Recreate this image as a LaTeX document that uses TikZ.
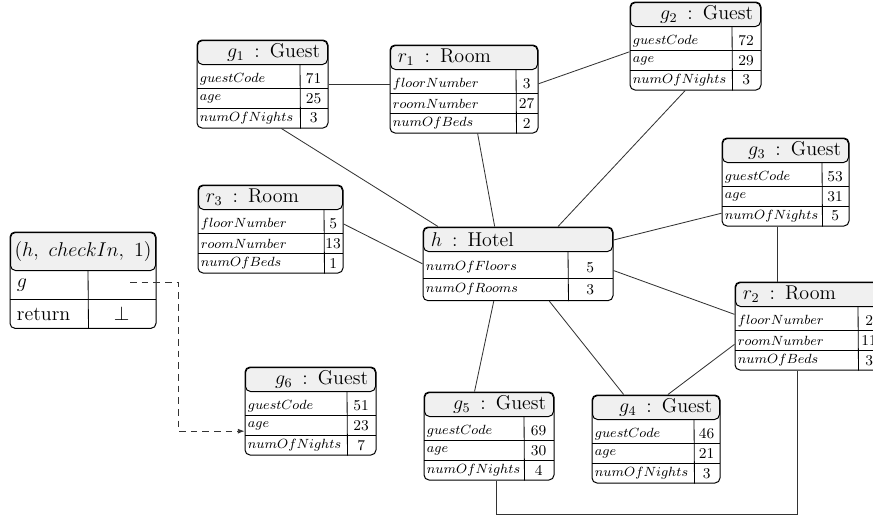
\documentclass[tikz,border=0pt]{standalone}
\usepackage{amsmath,amssymb}
\usepackage{tikz}
\usetikzlibrary{arrows.meta,positioning,fit,calc}
\definecolor{headgray}{HTML}{F0F0F0}
\definecolor{linkgray}{HTML}{333333}
\tikzset{title side/.store in=\titleside, title side=east,
  first gap/.store in=\firstgap, first gap=2.4pt}
% object box: [options]{name}{top left}{width}{value column}{title}{attribute/value list}
\newcommand{\umlobj}[7][]{%
  \begin{scope}[#1]
    \node[objhead, anchor=north west, minimum width=#4*0.6pt] (#2-head) at (#3) {};
    \node[objtitle, anchor=\titleside] (#2-t) at (#2-head.\titleside) {#6};
    \xdef\prevrow{#2-head}
    \foreach \attr/\val [count=\i] in {#7} {
      \ifnum\i=1 \edef\rowgap{\firstgap}\else\def\rowgap{0pt}\fi
      \node[objrow, anchor=north west, minimum width=#4*0.6pt] (#2-r\i) at ([yshift=-\rowgap]\prevrow.south west) {};
      \node[objattr] (#2-a\i) at (#2-r\i.west) {\attr};
      \node[objval] (#2-v\i) at ($(#2-r\i.east)+(-#5/2,0)$) {\val};
      \ifnum\i>1 \draw[objline] (#2-r\i.north west) -- (#2-r\i.north east);\fi
      \xdef\prevrow{#2-r\i}
    }
    \node[objframe, fit=(#2-head)(\prevrow)] (#2) {};
    \draw[objline] ($(#2-head.south east)+(-#5,0)$) -- ($(#2.south east)+(-#5,0)$);
  \end{scope}
}

\begin{document}
\begin{tikzpicture}[
  x=0.6pt, y=-0.6pt,
  objhead/.style={draw=black, line width=0.6pt, fill=headgray, rounded corners=3pt, inner sep=0pt, minimum height=14.4pt},
  objtitle/.style={inner xsep=4.5pt, inner ysep=0pt, font=\large},
  objrow/.style={inner sep=0pt, minimum height=11.4pt},
  objattr/.style={anchor=west, inner xsep=1.5pt, inner ysep=0pt, font=\footnotesize},
  objval/.style={inner sep=0pt, font=\small},
  objline/.style={draw=black, line width=0.5pt},
  objframe/.style={draw=black, line width=0.6pt, rounded corners=3pt, inner sep=0pt},
  link/.style={draw=linkgray, line width=0.5pt},
  ref/.style={link, dash pattern=on 4pt off 3pt, -{Latex[length=4pt,width=3pt]}}
]
  \useasboundingbox (0,0) rectangle (873,515);

  \umlobj{g1}{197,40}{130}{28}{$g_1$\enspace:\enspace Guest}{$guestCode$/71, $age$/25, $numOfNights$/3}
  \umlobj[title side=west]{r1}{390,45}{147}{22}{$r_1$\enspace:\enspace Room}{$floorNumber$/3, $roomNumber$/27, $numOfBeds$/2}
  \umlobj{g2}{630,2}{130}{29}{$g_2$\enspace:\enspace Guest}{$guestCode$/72, $age$/29, $numOfNights$/3}
  \umlobj{g3}{722,138}{126}{27}{$g_3$\enspace:\enspace Guest}{$guestCode$/53, $age$/31, $numOfNights$/5}
  \umlobj[title side=west]{r3}{198,185}{144}{19}{$r_3$\enspace:\enspace Room}{$floorNumber$/5, $roomNumber$/13, $numOfBeds$/1}
  \umlobj[title side=west, objrow/.append style={minimum height=13pt}]{h}{423,227}{189}{45}{$h$\enspace:\enspace Hotel}{$numOfFloors$/5, $numOfRooms$/3}
  \umlobj[title side=west]{r2}{735,282}{145}{23}{$r_2$\enspace:\enspace Room}{$floorNumber$/2, $roomNumber$/11, $numOfBeds$/3}
  \umlobj{g6}{245,367}{130}{29}{$g_6$\enspace:\enspace Guest}{$guestCode$/51, $age$/23, $numOfNights$/7}
  \umlobj{g5}{424,392}{129}{30}{$g_5$\enspace:\enspace Guest}{$guestCode$/69, $age$/30, $numOfNights$/4}
  \umlobj{g4}{592,395}{127}{26}{$g_4$\enspace:\enspace Guest}{$guestCode$/46, $age$/21, $numOfNights$/3}
  \umlobj[title side=center, first gap=0pt, objhead/.append style={minimum height=22.8pt},
    objrow/.append style={minimum height=16.8pt},
    objattr/.append style={font=\large, inner xsep=4pt}, objval/.append style={font=\large}]
    {call}{10,232}{145}{68}{$(h,\ checkIn,\ 1)$}{$g$/, return/$\bot$}

  \draw[link] (g1.east) -- (g1.east -| r1.west);
  \draw[link] (r1.4) -- (g2.185);
  \draw[link] (g1.-67) -- (h.155);
  \draw[link] (r1.-73) -- (h.122);
  \draw[link] (g2.-103) -- (h.43);
  \draw[link] (g3.206) -- (h.14);
  \draw[link] (r3.4) -- (h.west);
  \draw[link] (g3.-100) -- (g3.-100 |- r2.north);
  \draw[link] (h.-4) -- (r2.171);
  \draw[link] (h.-123) -- (g5.108);
  \draw[link] (h.-50) -- (g4.126);
  \draw[link] (r2.194) -- (g4.75);
  \draw[link] (g5.-81) -- ++(0,34) -| (r2.-103);
  \draw[ref] ([xshift=5pt,yshift=2pt]call-v1.center) -- ++(48,0) |- (g6.197);
\end{tikzpicture}
\end{document}
